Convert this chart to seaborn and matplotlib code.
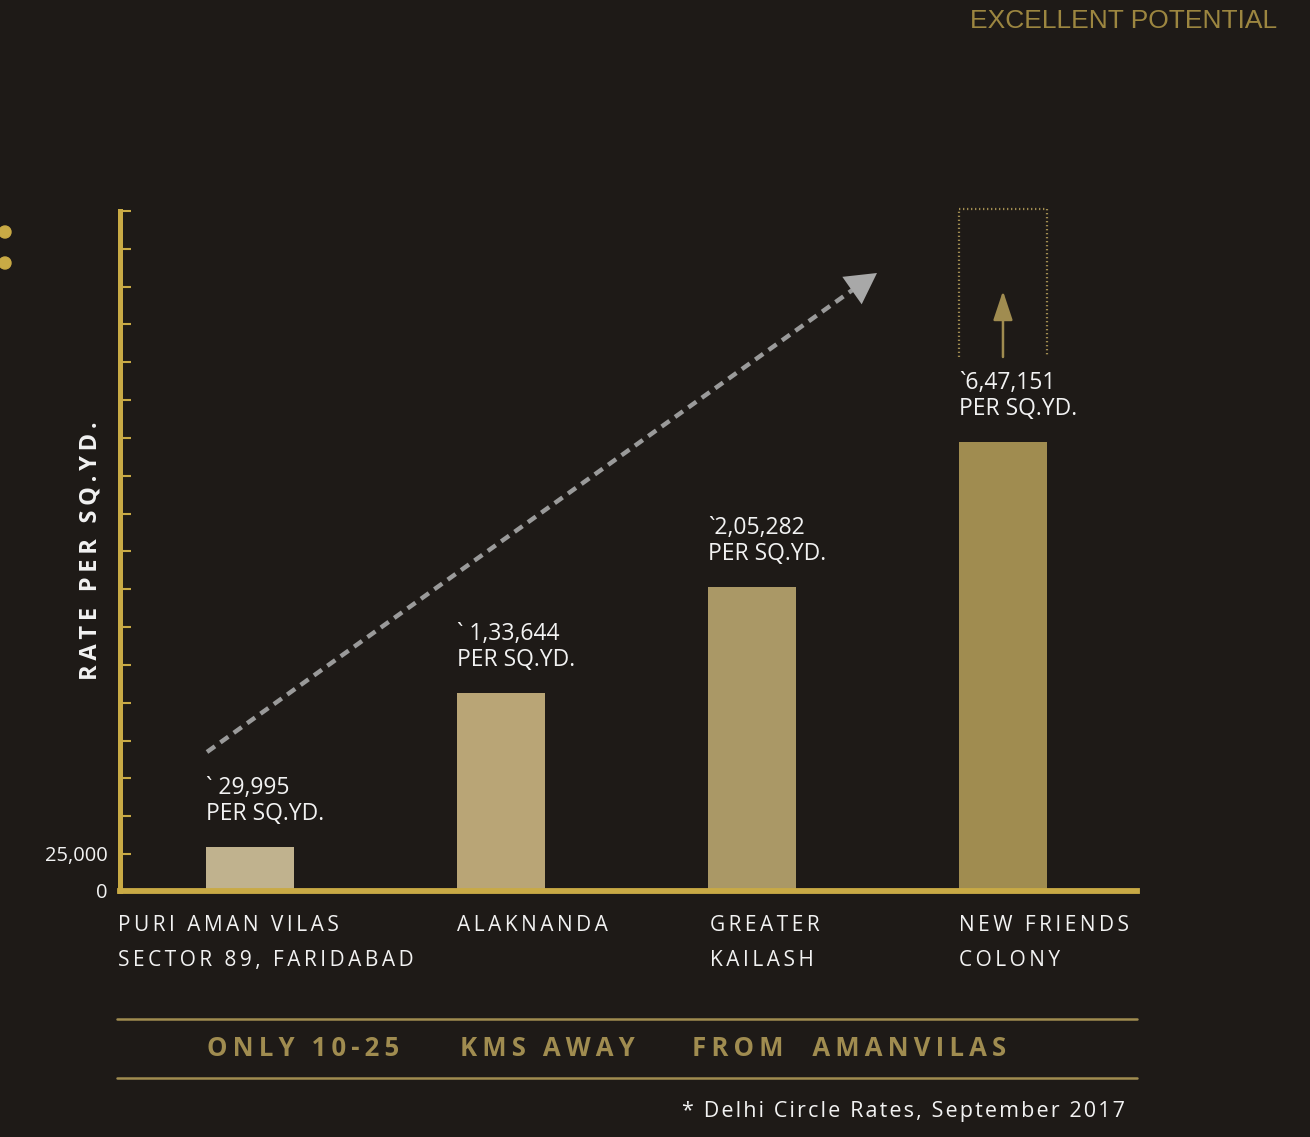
import numpy as np
import matplotlib
matplotlib.use("Agg")
import matplotlib.pyplot as plt
from matplotlib.patches import Ellipse
import matplotlib.transforms as mtransforms
import seaborn as sns

# ---- data ----
categories = ["PURI AMAN VILAS\nSECTOR 89, FARIDABAD", "ALAKNANDA",
              "GREATER\nKAILASH", "NEW FRIENDS\nCOLONY"]
rates = [29995, 133644, 205282, 647151]
rate_labels = ["` 29,995", "` 1,33,644", "`2,05,282", "`6,47,151"]
bar_colors = ["#c0b28e", "#b9a576", "#aa9866", "#a08c50"]
title = "EXCELLENT POTENTIAL"
ylabel = "RATE PER SQ.YD."
footer = ["ONLY 10-25", "KMS AWAY", "FROM  AMANVILAS"]
footnote = "* Delhi Circle Rates, September 2017"

BG = "#1e1a17"
GOLD = "#c9aa45"
DARKGOLD = "#a08c50"
WHITE = "#f2f2f2"
FONT = ["Open Sans", "DejaVu Sans"]

sns.set_theme(style="white")
plt.rcParams["font.family"] = FONT

W, H = 1310, 1137
fig = plt.figure(figsize=(W / 100, H / 100), dpi=100, facecolor=BG)

def fx(px):
    return px / W

def fy(py):
    return 1 - py / H

ax = fig.add_axes([fx(120), fy(891), fx(1137) - fx(120), fy(211) - fy(891)])
ax.set_facecolor(BG)

# broken (compressed) scale above the third value
B = 205282.0
K = 0.2215

def fwd(v):
    v = np.asarray(v, dtype=float)
    return np.where(v <= B, v, B + (v - B) * K)

def inv(f):
    f = np.asarray(f, dtype=float)
    return np.where(f <= B, f, B + (f - B) / K)

bw = 0.347
sns.barplot(x=list(range(4)), y=rates, hue=list(range(4)), palette=bar_colors,
            width=bw, saturation=1, legend=False, ax=ax, dodge=False,
            linewidth=0, edgecolor="none")
ax.set_yscale("function", functions=(fwd, inv))

top_f = 459150.0
ax.set_ylim(0, float(inv(top_f)))
ax.set_xlim(-0.518, 3.534)

# ticks
tick_f = [0.0] + [25000 + n * (top_f - 25000) / 17 for n in range(18)]
tick_v = [float(inv(t)) for t in tick_f]
ax.set_yticks(tick_v)
ax.set_yticklabels(["0", "25,000"] + [""] * 17)
ax.yaxis.set_minor_locator(matplotlib.ticker.NullLocator())
ax.tick_params(axis="y", direction="in", length=8, width=1.5, color=GOLD,
               labelcolor=WHITE, labelsize=14.5, pad=9, left=True)
ax.set_xticks([])
ax.set_xlabel("")

for side in ["top", "right"]:
    ax.spines[side].set_visible(False)
ax.spines["left"].set_color(GOLD)
ax.spines["left"].set_linewidth(3.6)
ax.spines["bottom"].set_color(GOLD)
ax.spines["bottom"].set_linewidth(4.2)
ax.spines["left"].set_zorder(5)
ax.spines["bottom"].set_zorder(5)

def spaced(s, sep="\u2009"):
    return "\n".join(sep.join(list(line)) for line in s.split("\n"))

# value labels
for i, (v, lab) in enumerate(zip(rates, rate_labels)):
    ax.annotate(lab + "\nPER SQ.YD.", xy=(i - bw / 2, v), xytext=(0, 15),
                textcoords="offset points", ha="left", va="bottom",
                color=WHITE, fontsize=16.5, linespacing=1.12,
                fontfamily=FONT)

# category labels
bt = mtransforms.blended_transform_factory(ax.transData, fig.transFigure)
lab_x = [-0.518 - 0.008, 1 - bw / 2, 2 - bw / 2 + 0.008, 3 - bw / 2]
for i, c in enumerate(categories):
    ax.text(lab_x[i], fy(915), spaced(c, "\u2009"), transform=bt,
            ha="left", va="top", color=WHITE, fontsize=15, linespacing=1.85,
            fontfamily=FONT)

# y label
fig.text(fx(91), fy(551), spaced(ylabel, "\u2009"), rotation=90,
         ha="center", va="center", color=WHITE, fontsize=17,
         fontweight="bold", fontfamily=FONT)

# title
fig.text(fx(1277), fy(21), title, ha="right", va="center", color="#9c8640",
         fontsize=19, fontfamily=["Liberation Sans", "DejaVu Sans"])

# dots at left edge
for py in (232, 263):
    fig.add_artist(Ellipse((fx(5), fy(py)), 12 / W, 12 / H, color=GOLD))

# dashed trend arrow (axes fraction)
def axf(px, py):
    return ((px - 120) / 1017, (891 - py) / 680)

x0, y0 = axf(207, 752)
x1, y1 = axf(858, 286)
ax.plot([x0, x1], [y0, y1], transform=ax.transAxes, color="#9a9a9a",
        lw=3.2, ls=(0, (2.2, 1.5)), clip_on=False, solid_capstyle="butt")
xe, ye = axf(877, 273)
xs, ys = axf(850, 292)
ax.annotate("", xy=(xe, ye), xytext=(xs, ys), xycoords="axes fraction",
            textcoords="axes fraction",
            arrowprops=dict(arrowstyle="-|>,head_length=1.0,head_width=0.55",
                            mutation_scale=22, color="#a8a8a8", lw=0,
                            shrinkA=0, shrinkB=0))

# dotted potential box over last bar
bt2 = mtransforms.blended_transform_factory(ax.transData, ax.transAxes)
bx0, bx1 = 3 - bw / 2, 3 + bw / 2
yb, yt = axf(0, 357)[1], axf(0, 209)[1]
ax.plot([bx0, bx0, bx1, bx1], [yb, yt, yt, yb], transform=bt2,
        color=DARKGOLD, lw=1.6, ls=(0, (0.6, 1.2)), clip_on=False)
ax.annotate("", xy=(3, axf(0, 291)[1]), xytext=(3, yb), xycoords=bt2,
            textcoords=bt2,
            arrowprops=dict(arrowstyle="-|>,head_length=0.9,head_width=0.3",
                            mutation_scale=20, color=DARKGOLD, lw=1.8,
                            shrinkA=0, shrinkB=0))

# footer lines
for py in (1019, 1078):
    fig.add_artist(plt.Line2D([fx(117), fx(1137)], [fy(py), fy(py)],
                              color=DARKGOLD, lw=1.8))
for txt, px in zip(footer, (207, 460, 692)):
    fig.text(fx(px), fy(1048), spaced(txt, "\u2009"), ha="left",
             va="center", color=DARKGOLD, fontsize=18.5, fontweight="bold",
             fontfamily=FONT)

fig.text(fx(1125), fy(1112), spaced(footnote, "\u200a"), ha="right",
         va="center", color=WHITE, fontsize=15.5, fontfamily=FONT)

fig.savefig("out.png", dpi=100, facecolor=BG)
